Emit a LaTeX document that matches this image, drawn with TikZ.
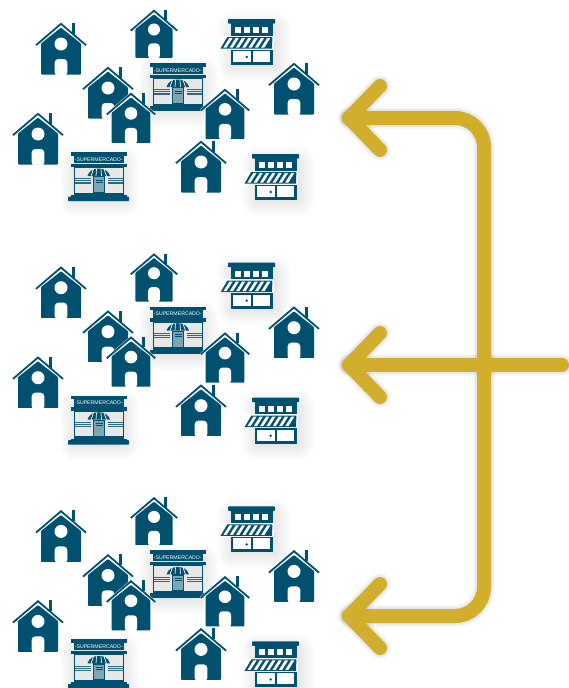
\documentclass[tikz,border=0pt]{standalone}
\usepackage{fontspec}
\setmainfont{Liberation Sans}
\definecolor{navy}{HTML}{00506F}
\definecolor{gold}{HTML}{D1AE2B}
\definecolor{pane}{HTML}{E8E8E8}
\tikzset{
  softshade/.style={black,opacity=.011},
  pics/house/.style={code={
    \def\housebody{(-20,20.5) -- (0,4.6) -- (20,20.5) -- (20,51.5) -- (-20,51.5) -- cycle}
    \draw[white,line width=#1,line join=miter] (-25,22.2) -- (0,0.8) -- (25,22.2);
    \draw[white,line width=#1] \housebody;
    \fill[white] (-25,22.2) -- (0,0.8) -- (25,22.2) -- cycle;
    \fill[navy] (11,0) rectangle (14,11);
    \draw[navy,line width=1.8,line join=miter] (-25,22.2) -- (0,0.8) -- (25,22.2);
    \fill[navy,rounded corners=.8] \housebody;
    \fill[white,rounded corners=3.5] (-6.3,53) -- (-6.3,36) -- (6.3,36) -- (6.3,53) -- cycle;
    \fill[white] (-22,51.7) rectangle (22,54);
    \fill[white] (0,21) circle (6.5);
  }},
  pics/shop/.style={code={
    \foreach \g in {15,13,...,1}{
      \fill[softshade,rounded corners=\g pt] (5-\g,8-\g) rectangle (47+\g,47+\g);
    }
    \fill[navy,rounded corners=.7] (0,0) rectangle (47,4.5);
    \fill[navy] (2.5,4) rectangle (44.5,46);
    \foreach \wx in {7,16,25,34}{ \fill[white] (\wx,8) rectangle ++(6,6); }
    \fill[white] (-9,16.7) -- (45.5,16.7) -- (45.5,30.5) -- (-9,30.5) -- cycle;
    \fill[navy] (-0.7,18) -- (44.4,18) -- (44,29.5) -- (-7.5,29.5) -- cycle;
    \foreach \sx in {0,1,...,6}{
      \fill[white] ({1.4+\sx*6.3},19) -- ({4.6+\sx*6.3},19) -- ({-1.4+\sx*6.3},28.5) -- ({-4.6+\sx*6.3},28.5) -- cycle;
    }
    \fill[white] (5,32) rectangle (23,43);
    \fill[white] (25,32) rectangle (42,43);
    \fill[navy] (18.7,38) circle (1.3);
  }},
  pics/market/.style={code={
    \foreach \g in {15,13,...,1}{
      \fill[softshade,rounded corners=\g pt] (4-\g,10-\g) rectangle (53+\g,49+\g);
    }
    \fill[navy] (0,0) rectangle (55.7,3.5);
    \fill[navy] (2.7,3.5) rectangle (53,11);
    \fill[navy] (0,11.5) rectangle (55.7,15);
    \fill[navy] (2.7,15) rectangle (53,43);
    \fill[pane] (4,16) rectangle (51.7,40.5);
    \node[text=white,inner sep=0,font=\fontsize{#1}{#1}\selectfont] at (27.8,7.3) {-SUPERMERCADO-};
    \foreach \wy in {26.8,28.9,31}{
      \draw[navy!85!white,line width=1.1] (4,\wy) -- (19.5,\wy);
      \draw[navy!85!white,line width=1.1] (36.5,\wy) -- (51.7,\wy);
    }
    \fill[navy] (16.5,24) .. controls (18,19) and (22,16.5) .. (27.8,16.5) .. controls (33.5,16.5) and (37.5,19) .. (39,24) -- cycle;
    \foreach \sx/\bx in {22.5/20,25.5/25,30/30.5,33/35.5}{
      \draw[white,line width=.7] (\sx,17) -- (\bx,24);
    }
    \fill[navy] (21.7,24) rectangle (34.3,41);
    \fill[pane!55!navy] (23,25.2) rectangle (33,40);
    \draw[navy,line width=.5] (24.5,28) -- (31.5,28) (24.5,30) -- (31.5,30);
    \fill[navy] (0,42.8) rectangle (55.7,47.6);
  }}
}
\newcommand{\cluster}[1]{%
  \begin{scope}[yshift=-#1pt]
    \pic at (61,23) {house=0.01};
    \pic[scale=.93] at (154,10) {house=0.01};
    \pic at (228,19) {shop};
    \pic at (108,67) {house=0.01};
    \pic at (150,63) {market=5.2};
    \pic[scale=.97] at (131,93) {house=2.5};
    \pic[scale=.97] at (225,89) {house=2.5};
    \pic at (294,63) {house=0.01};
    \pic at (38,113) {house=0.01};
    \pic at (71,152) {market=5.2};
    \fill[navy,rounded corners=.7] (68,196.5) rectangle (129,201);
    \pic at (201,141) {house=0.01};
    \pic at (252,154) {shop};
  \end{scope}
}
\begin{document}
\begin{tikzpicture}[x=1pt,y=-1pt,
  flow/.style={gold,line width=14pt,line cap=round,line join=round},
  flowbend/.style={flow,rounded corners=29pt},
  flowshadow/.style={black,line cap=round,line join=round,opacity=.022}]
\useasboundingbox (0,0) rectangle (569,688);
\clip (0,0) rectangle (569,688);
\fill[white] (0,0) rectangle (569,688);
\cluster{0}
\cluster{243.7}
\cluster{487.4}
% arrow anchor points
\coordinate (t1) at (349,118);
\coordinate (ta) at (380,86);
\coordinate (tb) at (380,150);
\coordinate (c1) at (484,118);
\coordinate (m1) at (349,365);
\coordinate (ma) at (380,333);
\coordinate (mb) at (380,397);
\coordinate (m2) at (562,365);
\coordinate (b1) at (349,616);
\coordinate (ba) at (380,584);
\coordinate (bb) at (380,648);
\coordinate (c2) at (484,616);
\begin{scope}[xshift=4pt,yshift=-5pt]
  \foreach \sw in {22,20,18,16,14,12}{
    \draw[flowshadow,rounded corners=29pt,line width=\sw pt] (t1) -- (c1) -- (c2) -- (b1);
    \draw[flowshadow,line width=\sw pt] (m1) -- (m2);
    \draw[flowshadow,line width=\sw pt] (ta) -- (t1) -- (tb);
    \draw[flowshadow,line width=\sw pt] (ma) -- (m1) -- (mb);
    \draw[flowshadow,line width=\sw pt] (ba) -- (b1) -- (bb);
  }
\end{scope}
\draw[flowbend] (t1) -- (c1) -- (c2) -- (b1);
\draw[flow] (m1) -- (m2);
\draw[flow] (ta) -- (t1) -- (tb);
\draw[flow] (ma) -- (m1) -- (mb);
\draw[flow] (ba) -- (b1) -- (bb);
\end{tikzpicture}
\end{document}
